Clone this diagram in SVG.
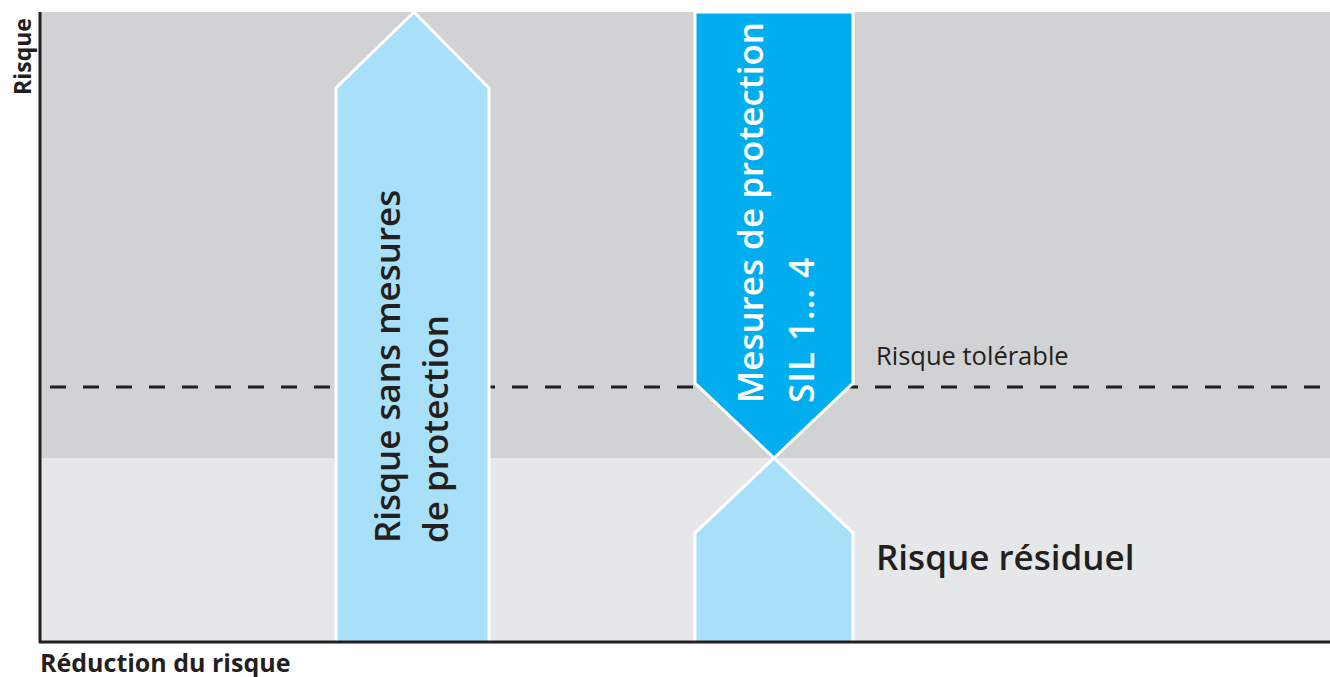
<svg xmlns="http://www.w3.org/2000/svg" width="1330" height="677" viewBox="0 0 1330 677">
<style>
text{font-family:"Open Sans","Noto Sans","Liberation Sans",sans-serif;fill:#231f20}
.ax{font-weight:700}
.lbl{font-size:35px;font-weight:600}
.w{fill:#ffffff}
.arrow{stroke:#ffffff;stroke-width:3;stroke-linejoin:miter}
.light{fill:#a8e0f9}
.dark{fill:#00aeef}
</style>
<rect width="1330" height="677" fill="#ffffff"/>
<g id="background">
<rect x="40" y="12" width="1290" height="446" fill="#d1d2d4"/>
<rect x="40" y="458" width="1290" height="185" fill="#e6e7e8"/>
</g>
<g id="connectors">
<line x1="50" y1="387" x2="1330" y2="387" stroke="#231f20" stroke-width="3" stroke-dasharray="16 17"/>
</g>
<g id="arrow-sans-mesures">
<polygon class="arrow light" points="414,12 489,88 489,643 336,643 336,88"/>
<text class="lbl" transform="translate(400,543) rotate(-90)">Risque sans mesures</text>
<text class="lbl" transform="translate(448,543) rotate(-90)">de protection</text>
</g>
<g id="arrow-mesures-sil">
<polygon class="arrow dark" points="695,12 853,12 853,383 774,458 695,383"/>
<text class="lbl w" transform="translate(763,403) rotate(-90)">Mesures de protection</text>
<text class="lbl w" transform="translate(814,403) rotate(-90)" letter-spacing="1">SIL 1... 4</text>
</g>
<g id="arrow-residuel">
<polygon class="arrow light" points="774,458 853,533 853,643 695,643 695,533"/>
</g>
<g id="axes">
<line x1="40" y1="12" x2="40" y2="643" stroke="#231f20" stroke-width="3"/>
<line x1="39" y1="642" x2="1330" y2="642" stroke="#231f20" stroke-width="3"/>
<text class="ax" transform="translate(31,95) rotate(-90)" font-size="23">Risque</text>
<text class="ax" x="40" y="672" font-size="25">Réduction du risque</text>
</g>
<g id="labels">
<text x="876" y="365" style="font-size:25.5px;font-weight:400">Risque tolérable</text>
<text x="876" y="570" style="font-size:35px;font-weight:600">Risque résiduel</text>
</g>
</svg>
